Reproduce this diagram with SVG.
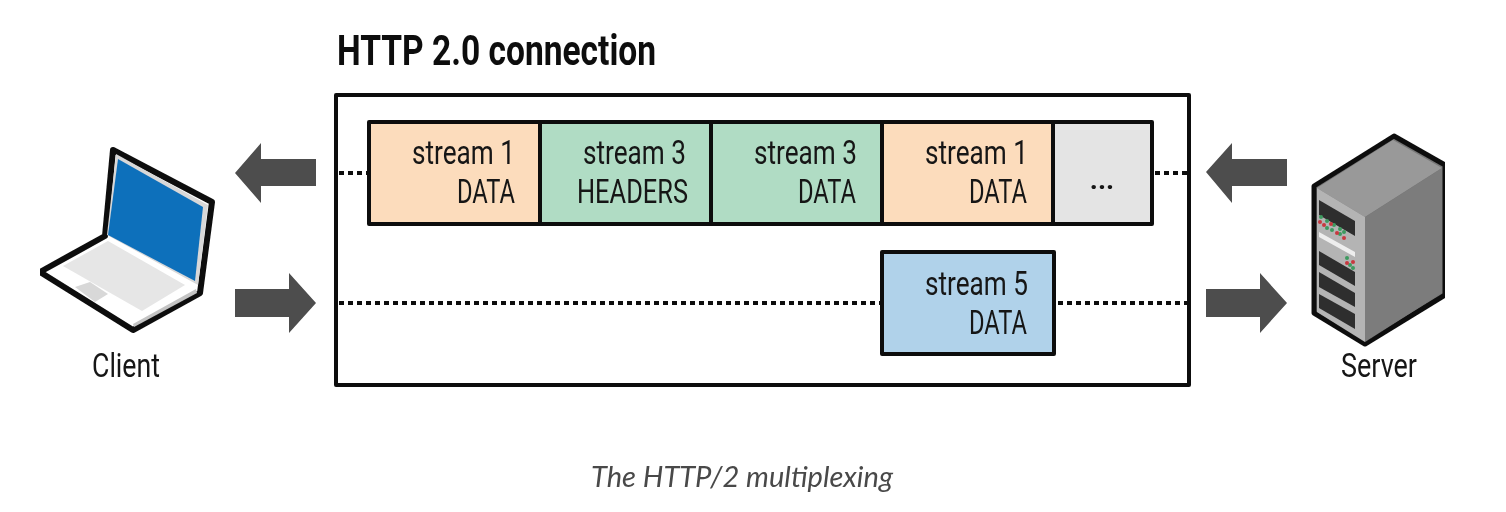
<svg xmlns="http://www.w3.org/2000/svg" width="1506" height="512" viewBox="0 0 1506 512">
<defs><filter id="soft" x="0" y="0" width="100%" height="100%"><feGaussianBlur stdDeviation="0.45"/></filter></defs>
<style>
text{font-family:Roboto,"Noto Sans","Liberation Sans",sans-serif;fill:#161616}
.t{font-size:33px}
.b{stroke:#111;stroke-width:4;stroke-linejoin:round}
.d{stroke:#111;stroke-width:4;stroke-dasharray:5 4;fill:none}
.a{fill:#4d4d4d}
.s{fill:#2e2e2e}
.g{fill:#3d9a5f}
.r{fill:#c8383f}
</style>
<rect width="1506" height="512" fill="#fff"/>
<g filter="url(#soft)">
<text id="title" x="337" y="65" font-size="42" font-weight="700" textLength="319" lengthAdjust="spacingAndGlyphs" style="fill:#111">HTTP 2.0 connection</text>
<g id="connection"><rect class="b" x="336" y="95" width="853" height="290" fill="#fff"/></g>
<g id="connectors">
<path class="d" d="M339 173H369M1155 173H1187M339 303H881M1058 303H1187"/>
<polygon id="arrow-client-in" class="a" points="235,173 261,143 261,159 316,159 316,186 261,186 261,203"/>
<polygon id="arrow-client-out" class="a" points="235,289 289,289 289,273 316,303 289,333 289,317 235,317"/>
<polygon id="arrow-server-out" class="a" points="1206,172 1232,143 1232,159 1287,159 1287,186 1232,186 1232,203"/>
<polygon id="arrow-server-in" class="a" points="1206,289 1260,289 1260,273 1287,303 1260,333 1260,317 1206,317"/>
</g>
<g id="frame1"><rect class="b" x="369" y="122" width="171" height="102" fill="#fcdcbc"/><text class="t" x="412" y="164" textLength="103" lengthAdjust="spacingAndGlyphs">stream 1</text><text class="t" x="457" y="203" textLength="58" lengthAdjust="spacingAndGlyphs">DATA</text></g>
<g id="frame2"><rect class="b" x="540" y="122" width="171" height="102" fill="#b0dcc4"/><text class="t" x="583" y="164" textLength="103" lengthAdjust="spacingAndGlyphs">stream 3</text><text class="t" x="577" y="203" textLength="111" lengthAdjust="spacingAndGlyphs">HEADERS</text></g>
<g id="frame3"><rect class="b" x="711" y="122" width="171" height="102" fill="#b0dcc4"/><text class="t" x="754" y="164" textLength="103" lengthAdjust="spacingAndGlyphs">stream 3</text><text class="t" x="798" y="203" textLength="58" lengthAdjust="spacingAndGlyphs">DATA</text></g>
<g id="frame4"><rect class="b" x="882" y="122" width="171" height="102" fill="#fcdcbc"/><text class="t" x="925" y="164" textLength="103" lengthAdjust="spacingAndGlyphs">stream 1</text><text class="t" x="969" y="203" textLength="58" lengthAdjust="spacingAndGlyphs">DATA</text></g>
<g id="frame5"><rect class="b" x="1053" y="122" width="99" height="102" fill="#e4e4e4"/><text x="1102" y="189" font-size="28" font-weight="700" text-anchor="middle">...</text></g>
<g id="frame6"><rect class="b" x="882" y="252" width="172" height="102" fill="#b0d2ea"/><text class="t" x="925" y="295" textLength="103" lengthAdjust="spacingAndGlyphs">stream 5</text><text class="t" x="969" y="334" textLength="58" lengthAdjust="spacingAndGlyphs">DATA</text></g>
<g id="client">
<polygon points="113,150 212,202 200,293 133,330 40,272 105,236" fill="#fff" stroke="#111" stroke-width="6" stroke-linejoin="round"/>
<polygon points="116,154 208,205 198,285 107,235" fill="#d8d8d8"/>
<polygon points="118,159 203,207 195,281 108,235" fill="#1170bb"/>
<polygon points="63,266 108,241 185,285 142,311" fill="#e6e6e6"/>
<polygon points="75,287 90,282 108,294 95,302" fill="#d8d8d8"/>
<polygon points="133,324 196,289 197,293 134,327" fill="#c4c4c4"/>
<text x="92" y="377" font-size="34" textLength="68" lengthAdjust="spacingAndGlyphs">Client</text>
</g>
<g id="server">
<polygon points="1394,136 1445,165 1445,295 1365,344 1314,313 1314,186" fill="#777" stroke="#111" stroke-width="5" stroke-linejoin="round"/>
<polygon points="1317,188 1393,140 1442,168 1365,217" fill="#999"/>
<polygon points="1365,217 1442,168 1442,293 1365,342" fill="#7b7b7b"/>
<polygon points="1317,188 1365,217 1365,342 1317,312" fill="#b4b4b4"/>
<polygon class="s" points="1319,200 1355,221 1355,236 1319,215"/>
<polygon points="1319,232 1355,252 1355,257 1319,237" fill="#eee"/>
<polygon class="s" points="1319,251 1355,272 1355,286 1319,265"/>
<polygon class="s" points="1319,272 1355,293 1355,307 1319,287"/>
<polygon class="s" points="1319,294 1355,314 1355,329 1319,308"/>
<g class="g"><circle cx="1321" cy="217" r="2"/><circle cx="1327" cy="221" r="2"/><circle cx="1334" cy="225" r="2"/><circle cx="1340" cy="229" r="2"/><circle cx="1344" cy="232" r="2"/><circle cx="1327" cy="228" r="2"/><circle cx="1332" cy="230" r="2"/><circle cx="1340" cy="234" r="2"/><circle cx="1347" cy="258" r="2"/><circle cx="1350" cy="265" r="2"/><circle cx="1353" cy="268" r="2"/></g>
<g class="r"><circle cx="1320" cy="222" r="2"/><circle cx="1324" cy="225" r="2"/><circle cx="1331" cy="224" r="2"/><circle cx="1337" cy="233" r="2"/><circle cx="1344" cy="238" r="2"/><circle cx="1353" cy="262" r="2"/><circle cx="1347" cy="263" r="2"/></g>
<text x="1341" y="377" font-size="34" textLength="76" lengthAdjust="spacingAndGlyphs">Server</text>
</g>
<text id="caption" x="591" y="487" font-size="29.5" font-style="italic" textLength="302" lengthAdjust="spacingAndGlyphs" style="font-family:Lato,'Noto Sans',sans-serif;fill:#484848">The HTTP/2 multiplexing</text>
</g>
</svg>
